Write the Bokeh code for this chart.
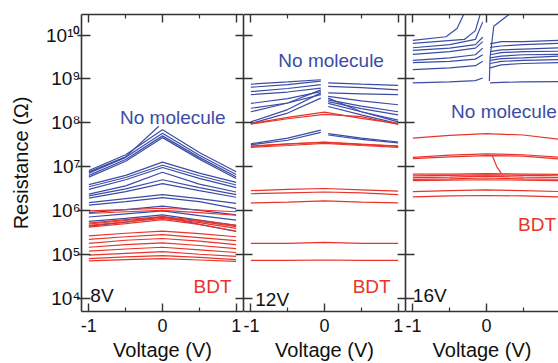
from bokeh.plotting import figure
from bokeh.layouts import row
from bokeh.models import Range1d, FixedTicker, LinearAxis, LogAxis
from bokeh.core.properties import value
from bokeh.embed import file_html
from bokeh.resources import INLINE

# ---------------- data (log10 of resistance in ohm) ----------------
V5 = [-1.0, -0.5, 0.0, 0.5, 1.0]
V_LEFT = [-1.0, -0.5, -0.05]
V_RIGHT = [0.05, 0.5, 1.0]
V_LEFT3 = [-1.0, -0.5, -0.15, -0.05]
V_RIGHT3 = [0.05, 0.2, 0.5, 1.0]

# 8 V panel
blue_8V = [
    [6.91, 7.27, 7.84, 7.32, 6.88],
    [6.85, 7.21, 7.76, 7.26, 6.82],
    [6.80, 7.16, 7.70, 7.21, 6.77],
    [6.76, 7.12, 7.66, 7.17, 6.73],
    [6.59, 6.80, 7.10, 6.85, 6.64],
    [6.54, 6.75, 7.03, 6.79, 6.58],
    [6.48, 6.70, 6.98, 6.73, 6.52],
    [6.37, 6.56, 6.87, 6.60, 6.42],
    [6.33, 6.49, 6.70, 6.52, 6.36],
    [6.28, 6.43, 6.61, 6.45, 6.30],
    [6.18, 6.27, 6.36, 6.27, 6.16],
    [6.12, 6.20, 6.29, 6.20, 6.04],
    [5.95, 6.02, 6.10, 6.00, 5.90],
    [5.85, 5.92, 5.99, 5.88, 5.78],
    [5.75, 5.82, 5.90, 5.78, 5.66],
    [5.64, 5.73, 5.86, 5.68, 5.52],
]
spike_8V_V = [-1.0, -0.5, -0.05]
spike_8V = [6.88, 7.22, 7.92]
red_8V = [
    [5.99, 6.02, 6.05, 6.01, 5.97],
    [5.93, 5.97, 6.00, 5.95, 5.89],
    [5.71, 5.79, 5.86, 5.77, 5.66],
    [5.69, 5.77, 5.84, 5.75, 5.63],
    [5.66, 5.74, 5.82, 5.72, 5.59],
    [5.62, 5.70, 5.79, 5.68, 5.53],
    [5.42, 5.48, 5.53, 5.47, 5.40],
    [5.34, 5.40, 5.45, 5.38, 5.31],
    [5.25, 5.32, 5.36, 5.30, 5.22],
    [5.16, 5.22, 5.26, 5.20, 5.13],
    [5.07, 5.12, 5.16, 5.10, 5.04],
    [4.98, 5.02, 5.06, 5.00, 4.95],
    [4.90, 4.94, 4.97, 4.93, 4.88],
    [4.85, 4.88, 4.90, 4.87, 4.84],
]

# 12 V panel
blue_12V_left = [
    [8.88, 8.93, 8.98],
    [8.81, 8.87, 8.95],
    [8.71, 8.78, 8.87],
    [8.64, 8.70, 8.79],
    [8.44, 8.55, 8.71],
    [8.33, 8.45, 8.64],
    [8.25, 8.45, 8.75],
    [8.02, 8.30, 8.68],
    [7.98, 8.22, 8.56],
    [7.52, 7.65, 7.83],
    [7.50, 7.60, 7.78],
]
blue_12V_right = [
    [8.91, 8.88, 8.85],
    [8.83, 8.80, 8.75],
    [8.68, 8.66, 8.64],
    [8.60, 8.50, 8.41],
    [8.52, 8.38, 8.25],
    [8.48, 8.32, 8.18],
    [8.44, 8.25, 8.06],
    [8.37, 8.18, 7.98],
    [8.56, 8.25, 8.02],
    [7.75, 7.65, 7.56],
    [7.72, 7.62, 7.54],
]
red_12V = [
    [7.98, 8.12, 8.24, 8.10, 7.98],
    [7.97, 8.09, 8.19, 8.14, 7.96],
    [7.46, 7.51, 7.56, 7.51, 7.46],
    [7.47, 7.52, 7.55, 7.50, 7.47],
    [7.44, 7.48, 7.53, 7.48, 7.44],
    [6.45, 6.48, 6.50, 6.47, 6.44],
    [6.38, 6.40, 6.42, 6.40, 6.36],
    [6.17, 6.19, 6.22, 6.19, 6.17],
    [5.25, 5.25, 5.27, 5.25, 5.25],
    [4.86, 4.86, 4.87, 4.86, 4.86],
]

# 16 V panel
blue_16V_left = [
    [9.71, 9.78, 9.90, 10.30],
    [9.65, 9.70, 9.78, 9.95],
    [9.56, 9.62, 9.70, 9.85],
    [9.42, 9.48, 9.55, 9.70],
    [9.37, 9.40, 9.45, 9.55],
    [9.21, 9.25, 9.30, 9.40],
    [8.91, 8.93, 8.96, 9.02],
]
steep_16V_a_V = [-1.0, -0.55, -0.4, -0.3]
steep_16V_a = [9.88, 9.96, 10.15, 10.5]
steep_16V_b_V = [-1.0, -0.3, -0.15, -0.08]
steep_16V_b = [9.81, 9.90, 10.1, 10.5]
blue_16V_right = [
    [9.80, 9.85, 9.85, 9.88],
    [9.72, 9.75, 9.78, 9.81],
    [9.62, 9.66, 9.68, 9.71],
    [9.55, 9.60, 9.62, 9.63],
    [9.48, 9.52, 9.55, 9.56],
    [9.42, 9.46, 9.48, 9.52],
    [9.35, 9.40, 9.42, 9.44],
    [9.25, 9.32, 9.35, 9.37],
    [8.91, 8.92, 8.93, 8.94],
]
steep_16V_c_V = [0.04, 0.05, 0.1, 0.33]
steep_16V_c = [8.95, 9.5, 10.2, 10.5]
red_16V = [
    [7.65, 7.71, 7.75, 7.72, 7.62],
    [7.21, 7.26, 7.29, 7.27, 7.21],
    [7.18, 7.22, 7.25, 7.24, 7.17],
    [6.83, 6.83, 6.84, 6.83, 6.82],
    [6.79, 6.80, 6.81, 6.80, 6.79],
    [6.75, 6.76, 6.78, 6.76, 6.75],
    [6.71, 6.72, 6.74, 6.72, 6.71],
    [6.68, 6.69, 6.70, 6.69, 6.68],
    [6.43, 6.45, 6.47, 6.45, 6.43],
    [6.31, 6.33, 6.34, 6.33, 6.31],
]
spike_16V_V = [0.08, 0.14, 0.2]
spike_16V = [7.25, 7.0, 6.85]

x_ticks = [-1, 0, 1]
x_minor = [-0.5, 0.5]
x_tick_labels = {-1: "-1", 0: "0", 1: "1"}
y_exponents = [4, 5, 6, 7, 8, 9, 10]
y_tick_labels = ["10\u2074", "10\u2075", "10\u2076", "10\u2077", "10\u2078", "10\u2079", "10\u00b9\u2070"]

# ---------------- style ----------------
BLUE = "#3b4ca6"
RED = "#e8342b"
AX = "#333333"
FONT = "Liberation Sans"
H = 363
LOG_LO, LOG_HI = 3.695, 10.468


def R(vals):
    return [10 ** v for v in vals]


def hide_labels(ax):
    ax.major_label_text_font_size = "1px"
    ax.major_label_text_color = None
    ax.major_label_standoff = 0


def make_panel(width, x_end, border_left, with_labels, with_right):
    p = figure(width=width, height=H, x_range=Range1d(-1.1, x_end),
               y_range=Range1d(10 ** LOG_LO, 10 ** LOG_HI), y_axis_type="log",
               x_axis_location=None, y_axis_location=None,
               output_backend="svg", toolbar_location=None,
               min_border_left=border_left, min_border_right=0,
               min_border_top=14, min_border_bottom=0)
    p.outline_line_color = None
    p.grid.visible = False
    p.background_fill_color = "white"
    p.border_fill_color = "white"

    xt = FixedTicker(ticks=x_ticks, minor_ticks=x_minor)
    yt = FixedTicker(ticks=[10.0 ** e for e in y_exponents], minor_ticks=[])

    def style(ax):
        ax.axis_line_color = AX
        ax.axis_line_width = 1.6
        ax.major_tick_line_color = AX
        ax.major_tick_line_width = 1.4
        ax.minor_tick_line_color = AX
        ax.minor_tick_line_width = 1.2
        ax.major_label_text_font = FONT
        ax.axis_label_text_font = FONT
        ax.axis_label_text_font_style = "normal"
        ax.major_label_text_color = "#111111"
        ax.axis_label_text_color = "#111111"

    bottom = LinearAxis(ticker=xt, axis_label="Voltage (V)",
                        major_label_overrides=x_tick_labels)
    style(bottom)
    bottom.major_tick_in = 8
    bottom.major_tick_out = 0
    bottom.minor_tick_in = 4
    bottom.minor_tick_out = 0
    bottom.major_label_text_font_size = "18px"
    bottom.major_label_standoff = 7
    bottom.axis_label_text_font_size = "20px"
    bottom.axis_label_standoff = 4
    p.add_layout(bottom, "below")

    top = LinearAxis(ticker=xt)
    style(top)
    top.major_tick_in = 8
    top.major_tick_out = 0
    top.minor_tick_in = 4
    top.minor_tick_out = 0
    hide_labels(top)
    p.add_layout(top, "above")

    left = LogAxis(ticker=yt)
    style(left)
    left.major_tick_in = 9
    left.minor_tick_in = 0
    left.minor_tick_out = 0
    if with_labels:
        left.major_tick_out = 4
        left.major_label_overrides = {10.0 ** e: t for e, t in zip(y_exponents, y_tick_labels)}
        left.major_label_text_font_size = "19px"
        left.major_label_standoff = -3
        left.axis_label = "Resistance (\u03a9)"
        left.axis_label_text_font_size = "20px"
        left.axis_label_standoff = 11
    else:
        left.major_tick_out = 0
        hide_labels(left)
    p.add_layout(left, "left")

    if with_right:
        right = LogAxis(ticker=yt)
        style(right)
        right.major_tick_in = 8
        right.major_tick_out = 0
        right.minor_tick_in = 0
        right.minor_tick_out = 0
        hide_labels(right)
        p.add_layout(right, "right")
    return p


def lines(p, xs_list, ys_list, color):
    p.multi_line(xs=xs_list, ys=[R(v) for v in ys_list], line_color=color, line_width=1.2)


def label(p, x, ylog, txt, color, align):
    p.text(x=[x], y=[10 ** ylog], text=[txt], text_font=value(FONT), text_font_size="19px",
           text_color=color, text_align=align, text_baseline="alphabetic")


# Panel 1: 8V
p1 = make_panel(243, 1.1, 81, True, True)
lines(p1, [V5] * len(blue_8V), blue_8V, BLUE)
lines(p1, [spike_8V_V], [spike_8V], BLUE)
lines(p1, [V5] * len(red_8V), red_8V, RED)
label(p1, 0.14, 8.11, "No molecule", BLUE, "center")
label(p1, 0.68, 4.26, "BDT", RED, "center")
label(p1, -0.98, 4.05, "8V", "#111111", "left")

# Panel 2: 12V
p2 = make_panel(162, 1.1, 0, False, True)
lines(p2, [V_LEFT] * len(blue_12V_left), blue_12V_left, BLUE)
lines(p2, [V_RIGHT] * len(blue_12V_right), blue_12V_right, BLUE)
lines(p2, [V5] * len(red_12V), red_12V, RED)
label(p2, 0.09, 9.41, "No molecule", BLUE, "center")
label(p2, 0.64, 4.27, "BDT", RED, "center")
label(p2, -0.94, 3.98, "12V", "#111111", "left")

# Panel 3: 16V (cut at right edge)
p3 = make_panel(153, 0.98, 0, False, False)
lines(p3, [V_LEFT3] * len(blue_16V_left), blue_16V_left, BLUE)
lines(p3, [steep_16V_a_V, steep_16V_b_V], [steep_16V_a, steep_16V_b], BLUE)
lines(p3, [V_RIGHT3] * len(blue_16V_right), blue_16V_right, BLUE)
lines(p3, [steep_16V_c_V], [steep_16V_c], BLUE)
lines(p3, [V5] * len(red_16V), red_16V, RED)
lines(p3, [spike_16V_V], [spike_16V], RED)
label(p3, -0.48, 8.25, "No molecule", BLUE, "left")
label(p3, 0.43, 5.68, "BDT", RED, "left")
label(p3, -1.0, 4.05, "16V", "#111111", "left")

layout = row(p1, p2, p3)
open("out.html", "w").write(file_html(layout, INLINE))
